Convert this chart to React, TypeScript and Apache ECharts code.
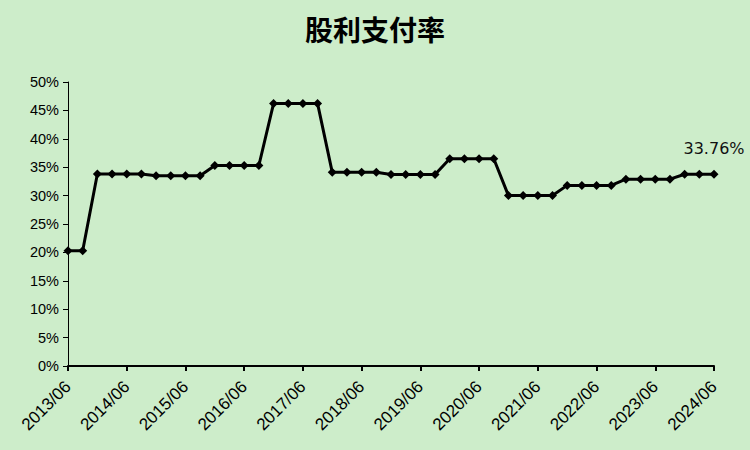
import React, { useEffect, useRef } from "react";
import * as echarts from "echarts";

const categories: string[] = [];
for (let y = 2013; y <= 2024; y++) {
  for (const m of ["03", "06", "09", "12"]) {
    if ((y === 2013 && m === "03") || (y === 2024 && (m === "09" || m === "12"))) continue;
    categories.push(`${y}/${m}`);
  }
}

const payoutRatio = [
  20.3, 20.3, 33.8, 33.8, 33.8, 33.8, 33.5, 33.5, 33.5, 33.5,
  35.3, 35.3, 35.3, 35.3, 46.2, 46.2, 46.2, 46.2, 34.1, 34.1,
  34.1, 34.1, 33.7, 33.7, 33.7, 33.7, 36.5, 36.5, 36.5, 36.5,
  30.0, 30.0, 30.0, 30.0, 31.8, 31.8, 31.8, 31.8, 32.9, 32.9,
  32.9, 32.9, 33.76, 33.76, 33.76,
];

const title = "股利支付率";

export default function App() {
  const ref = useRef<HTMLDivElement>(null);
  useEffect(() => {
    const chart = echarts.init(ref.current!, null, { renderer: "svg" });
    const last = payoutRatio.length - 1;
    chart.setOption({
      animation: false,
      backgroundColor: "#cdedca",
      title: {
        text: title,
        left: "center",
        top: 10,
        textStyle: { fontSize: 28, fontWeight: "bold", color: "#000", fontFamily: "Noto Sans CJK SC" },
      },
      grid: { left: 68, right: 36, top: 82, bottom: 84, containLabel: false },
      xAxis: {
        type: "category",
        data: categories,
        boundaryGap: false,
        axisLine: { lineStyle: { color: "#000", width: 2 } },
        axisTick: { interval: 3, length: 5, lineStyle: { color: "#000", width: 2 } },
        axisLabel: {
          interval: 3,
          rotate: 45,
          color: "#000",
          fontSize: 17,
          fontFamily: "Liberation Sans",
          margin: 18,
        },
        splitLine: { show: false },
      },
      yAxis: {
        type: "value",
        min: 0,
        max: 50,
        interval: 5,
        axisLine: { show: true, lineStyle: { color: "#000", width: 1 } },
        axisTick: { show: true, length: 5, lineStyle: { color: "#000" } },
        axisLabel: {
          formatter: "{value}%",
          color: "#000",
          fontSize: 14.5,
          fontFamily: "Liberation Sans",
          margin: 9,
        },
        splitLine: { show: false },
      },
      series: [
        {
          type: "line",
          data: payoutRatio.map((v, i) =>
            i === last
              ? {
                  value: v,
                  label: {
                    show: true,
                    position: "top",
                    distance: 13,
                    formatter: (p: any) => `${p.value.toFixed(2)}%`,
                    color: "#111",
                    fontSize: 16,
                    fontFamily: "DejaVu Sans",
                  },
                }
              : v
          ),
          symbol: "diamond",
          symbolSize: 9,
          lineStyle: { color: "#000", width: 3 },
          itemStyle: { color: "#000" },
        },
      ],
    });
    return () => chart.dispose();
  }, []);
  return (
    <div
      ref={ref}
      style={{ position: "absolute", left: 0, top: 0, width: 750, height: 450 }}
    />
  );
}
